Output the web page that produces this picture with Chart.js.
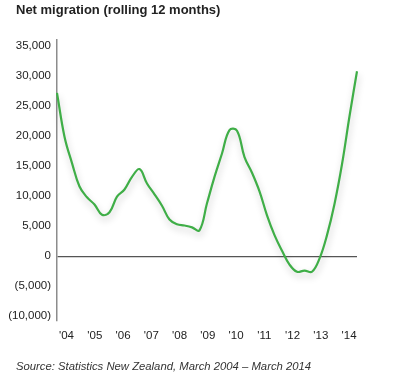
<!DOCTYPE html>
<html>
<head>
<meta charset="utf-8">
<script src="https://cdn.jsdelivr.net/npm/chart.js@4/dist/chart.umd.min.js"></script>
<style>
  html, body { margin: 0; padding: 0; background: #fff; }
  #wrap { position: relative; width: 399px; height: 380px; overflow: hidden; }
  #c { position: absolute; left: 0; top: 0; }
  .title { position: absolute; left: 16px; top: 2px; font: bold 13px "Liberation Sans", Arial, sans-serif; color: #222; white-space: nowrap; }
  .source { position: absolute; left: 16px; top: 360px; font: italic 11.3px "Liberation Sans", Arial, sans-serif; color: #333; white-space: nowrap; }
</style>
</head>
<body>
<div id="wrap">
  <canvas id="c" width="399" height="380"></canvas>
  <div class="title">Net migration (rolling 12 months)</div>
  <div class="source">Source: Statistics New Zealand, March 2004 – March 2014</div>
</div>
<script>
// Quarterly periods, March 2004 – March 2014
const quarters = [
  "Mar 04","Jun 04","Sep 04","Dec 04","Mar 05","Jun 05","Sep 05","Dec 05",
  "Mar 06","Jun 06","Sep 06","Dec 06","Mar 07","Jun 07","Sep 07","Dec 07",
  "Mar 08","Jun 08","Sep 08","Dec 08","Mar 09","Jun 09","Sep 09","Dec 09",
  "Mar 10","Jun 10","Sep 10","Dec 10","Mar 11","Jun 11","Sep 11","Dec 11",
  "Mar 12","Jun 12","Sep 12","Dec 12","Mar 13","Jun 13","Sep 13","Dec 13",
  "Mar 14"
];
// Net migration, rolling 12 months (persons)
const netMigration = [
  27200, 19900, 15500, 11600, 9800, 8600, 6900, 7300,
  9900, 11100, 13200, 14500, 12100, 10300, 8400, 6100,
  5300, 5100, 4800, 4300, 8800, 13200, 17100, 21000,
  20900, 16500, 13900, 10800, 6800, 3500, 900, -1400,
  -2600, -2400, -2600, -400, 3500, 8700, 15300, 23300,
  30800
];
const yearTickLabels = ["'04","'05","'06","'07","'08","'09","'10","'11","'12","'13","'14"];
const yTickValues = [-10000, -5000, 0, 5000, 10000, 15000, 20000, 25000, 30000, 35000];

const fmt = v => {
  const s = Math.abs(v).toLocaleString('en-US');
  return v < 0 ? '(' + s + ')' : s;
};

const shadowPlugin = {
  id: 'lineShadow',
  beforeDatasetDraw(chart) {
    const ctx = chart.ctx;
    ctx.save();
    ctx.shadowColor = 'rgba(0,0,0,0.22)';
    ctx.shadowBlur = 7;
    ctx.shadowOffsetX = 1;
    ctx.shadowOffsetY = 4;
  },
  afterDatasetDraw(chart) {
    chart.ctx.restore();
  }
};

const font = { family: '"Liberation Sans", Arial, sans-serif', size: 11.5 };
const n = quarters.length - 1;

new Chart(document.getElementById('c'), {
  type: 'line',
  data: {
    datasets: [{
      label: 'Net migration',
      data: netMigration.map((v, i) => ({ x: i, y: v })),
      borderColor: '#3fae47',
      borderWidth: 2.2,
      pointRadius: 0,
      tension: 0.4,
      fill: false,
      clip: false
    }]
  },
  options: {
    responsive: false,
    animation: false,
    devicePixelRatio: 1,
    layout: { padding: { left: 0, right: 42, top: 40, bottom: 0 } },
    plugins: { legend: { display: false }, tooltip: { enabled: false } },
    scales: {
      x: {
        type: 'linear',
        min: 0,
        max: n,
        grid: { display: false, drawTicks: false },
        border: { display: false },
        afterFit(scale) { scale.height = 59; },
        afterBuildTicks(scale) {
          scale.ticks = yearTickLabels.map((l, k) => ({ value: 1.27 + k * 3.767 }));
        },
        ticks: {
          autoSkip: false,
          maxRotation: 0,
          padding: 8,
          color: '#222',
          font: font,
          callback: (v, i) => yearTickLabels[i]
        }
      },
      y: {
        min: -10800,
        max: 36000,
        afterFit(scale) { scale.width = 57; },
        afterBuildTicks(scale) {
          scale.ticks = yTickValues.map(v => ({ value: v }));
        },
        grid: {
          drawTicks: false,
          color: ctx => (ctx.tick && ctx.tick.value === 0) ? '#555' : 'rgba(0,0,0,0)',
          lineWidth: 1.2
        },
        border: { display: true, color: '#8c8c8c', width: 1.5 },
        ticks: {
          padding: 6,
          color: '#222',
          font: font,
          callback: v => fmt(v)
        }
      }
    }
  },
  plugins: [shadowPlugin]
});
</script>
</body>
</html>
